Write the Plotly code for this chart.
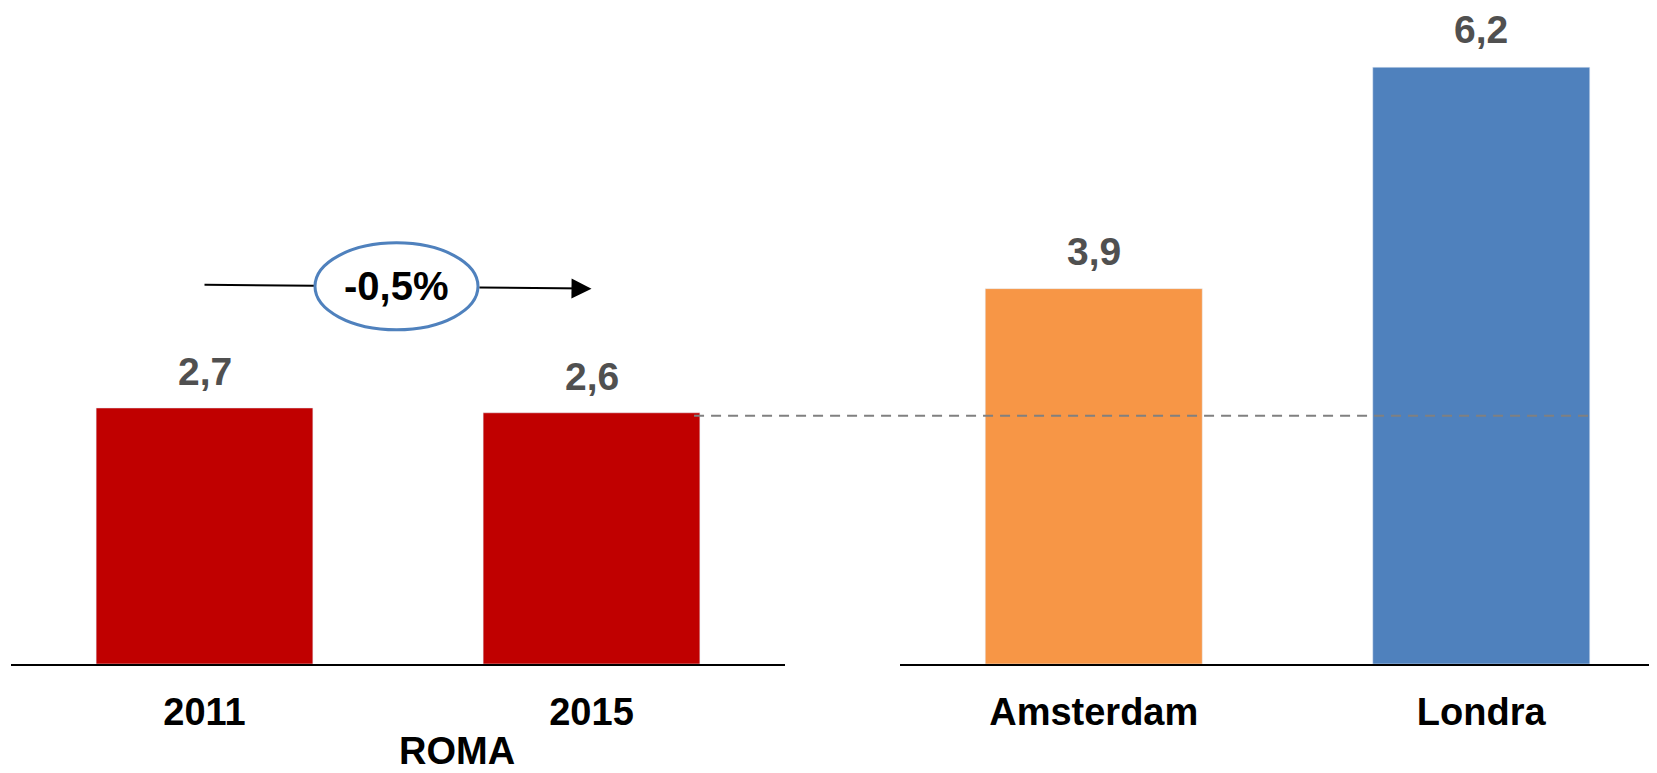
import plotly.graph_objects as go

# ---- data ----
roma_years = ["2011", "2015"]
roma_values = [2.66, 2.61]
roma_labels = ["2,7", "2,6"]
city_names = ["Amsterdam", "Londra"]
city_values = [3.9, 6.2]
city_labels = ["3,9", "6,2"]
growth_label = "-0,5%"
group_label = "ROMA"

# ---- style / geometry (page pixels; the page body has an 8px margin) ----
OFF = 8
W, H = 1657 - OFF, 773 - OFF
FONT = "Liberation Sans, Arial, sans-serif"
RED, ORANGE, BLUE = "#c00000", "#f79646", "#4f81bd"
VAL_COLOR = "#505050"
FS = 38

def px(x):
    return (x - OFF) / W

def py(y):
    return (H - (y - OFF)) / H

X1_DOM = [px(11), px(785)]
X1_RANGE = [-0.5, 1.5]
X2_DOM = [px(900), 1.0]
X2_RANGE = [-0.5, 1.5 - (1675 - 1657) / 387.5]
Y_DOM = [py(664), 1.0]
Y_MAX = (664 - OFF) / 96.25
BAR_W = 0.56

fig = go.Figure()
fig.add_trace(go.Bar(x=roma_years, y=roma_values, marker_color=RED, width=BAR_W,
                     xaxis="x", yaxis="y", hoverinfo="skip"))
fig.add_trace(go.Bar(x=city_names, y=city_values, marker_color=[ORANGE, BLUE], width=BAR_W,
                     xaxis="x2", yaxis="y", hoverinfo="skip"))

axis_common = dict(showgrid=False, zeroline=False, showline=True, linecolor="black",
                   linewidth=2, ticks="", ticklabelstandoff=13, automargin=False,
                   tickfont=dict(family=FONT, size=FS, color="black", weight="bold"))
fig.update_layout(
    width=W, height=H, margin=dict(l=0, r=0, t=0, b=0, autoexpand=False),
    paper_bgcolor="white", plot_bgcolor="white", showlegend=False,
    xaxis=dict(domain=X1_DOM, range=X1_RANGE, anchor="y", type="category", **axis_common),
    xaxis2=dict(domain=X2_DOM, range=X2_RANGE, anchor="y", type="category", **axis_common),
    yaxis=dict(domain=Y_DOM, range=[0, Y_MAX], visible=False),
)

# value labels
ann = []
for i, (v, t) in enumerate(zip(roma_values, roma_labels)):
    ann.append(dict(x=i, y=v, xref="x", yref="y", text=f"<b>{t}</b>", showarrow=False,
                    yanchor="bottom", yshift=13, font=dict(family=FONT, size=39, color=VAL_COLOR)))
for i, (v, t) in enumerate(zip(city_values, city_labels)):
    ann.append(dict(x=i, y=v, xref="x2", yref="y", text=f"<b>{t}</b>", showarrow=False,
                    yanchor="bottom", yshift=14, font=dict(family=FONT, size=39, color=VAL_COLOR)))

# growth arrow with ellipse
y_start, y_end = 3.94, 3.90
e_x0, e_x1 = 0.2855, 0.7067
e_y0, e_y1 = 3.472, 4.376
def y_at(x):
    return y_start + (y_end - y_start) * x

shapes = [
    dict(type="line", xref="x", yref="y", x0=0, y0=y_start, x1=e_x0, y1=y_at(e_x0),
         line=dict(color="black", width=2), layer="above"),
    dict(type="circle", xref="x", yref="y", x0=e_x0, x1=e_x1, y0=e_y0, y1=e_y1,
         line=dict(color=BLUE, width=3), fillcolor="white", layer="above"),
]
ann.append(dict(x=1, y=y_end, ax=e_x1, ay=y_at(e_x1), xref="x", yref="y", axref="x", ayref="y",
                text="", showarrow=True, arrowhead=2, arrowsize=2, arrowwidth=2,
                arrowcolor="black", standoff=0, startstandoff=0))
ann.append(dict(x=(e_x0 + e_x1) / 2, y=(e_y0 + e_y1) / 2, xref="x", yref="y",
                text=f"<b>{growth_label}</b>", showarrow=False,
                font=dict(family=FONT, size=40, color="black")))

# dashed reference line (Roma 2015 level) across to Londra
def paper_x(val, dom, rng):
    return dom[0] + (val - rng[0]) / (rng[1] - rng[0]) * (dom[1] - dom[0])
dash_x0 = paper_x(1 + BAR_W / 2 - 0.015, X1_DOM, X1_RANGE)
dash_x1 = paper_x(1 + BAR_W / 2, X2_DOM, X2_RANGE)
shapes.append(dict(type="line", xref="paper", yref="y", x0=dash_x0, x1=dash_x1,
                   y0=roma_values[1] - 0.03, y1=roma_values[1] - 0.03,
                   line=dict(color="#808080", width=2, dash="10px,7px"), layer="above"))

# group label (as low as possible without being clipped)
ann.append(dict(x=paper_x(0.5, X1_DOM, X1_RANGE), y=0, xref="paper", yref="paper",
                text=f"<b>{group_label}</b>", showarrow=False, yanchor="bottom", borderpad=0,
                font=dict(family=FONT, size=FS, color="black")))

fig.update_layout(shapes=shapes, annotations=ann)
fig.write_html("out.html")
